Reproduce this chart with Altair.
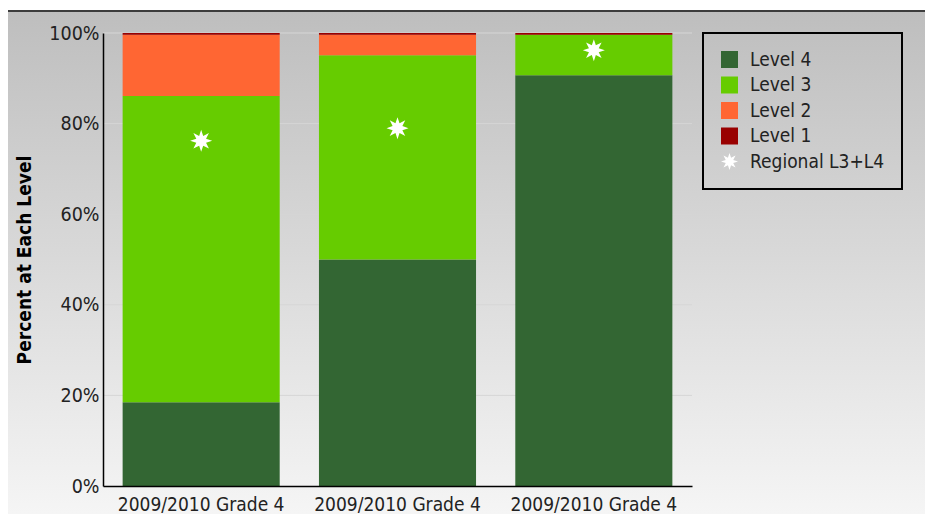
import json
import math
import altair as alt
import pandas as pd

# ---- data ----
labels = ["2009/2010 Grade 4", "2009/2010 Grade 4", "2009/2010 Grade 4"]
levels = ["Level 4", "Level 3", "Level 2", "Level 1"]
level4 = [18.5, 50.0, 90.7]
level3 = [67.6, 45.1, 8.9]
level2 = [13.5, 4.5, 0.0]
level1 = [0.4, 0.4, 0.4]
regional = [76.2, 79.0, 96.2]
regional_name = "Regional L3+L4"
y_ticks = [0, 20, 40, 60, 80, 100]

colors = ["#336633", "#66cc00", "#ff6633", "#990000", "#ffffff"]
domain = levels + [regional_name]

rows = []
for i in range(len(labels)):
    for rank, (name, series) in enumerate(zip(levels, [level4, level3, level2, level1])):
        rows.append({"idx": i, "level": name, "rank": rank, "pct": series[i]})
bars_df = pd.DataFrame(rows)
stars_df = pd.DataFrame({"idx": list(range(len(labels))), "level": regional_name, "pct": regional})
grid_df = pd.DataFrame({"pct": y_ticks[1:]})
one_df = pd.DataFrame({"k": [0]})

# 8-pointed star symbol
pts = []
n = 8
for k in range(2 * n):
    r = 1.0 if k % 2 == 0 else 0.48
    a = math.pi * k / n - math.pi / 2
    pts.append(f"{r*math.cos(a):.3f},{r*math.sin(a):.3f}")
star = "M" + "L".join(pts) + "Z"
shapes = ["square"] * 4 + [star]

FONT = "DejaVu Sans Condensed, DejaVu Sans"

legend_kw = dict(
    title=None, orient="none", legendX=600, legendY=0, padding=17,
    strokeColor="black", labelFontSize=19, labelColor="#222222",
    symbolSize=289, rowPadding=5.5, labelOffset=11, zindex=1,
    symbolStrokeWidth=0, labelFont=FONT,
)

bg = alt.Chart(one_df).mark_rect(
    fill=alt.Gradient(
        gradient="linear",
        stops=[alt.GradientStop(color="#bebebe", offset=0),
               alt.GradientStop(color="#f5f5f5", offset=1)],
        x1=0, x2=0, y1=0, y2=1,
    )
).encode(x=alt.value(-95), x2=alt.value(822), y=alt.value(-21), y2=alt.value(481))

topline = alt.Chart(one_df).mark_rule(color="#3c3c3c", strokeWidth=2).encode(
    x=alt.value(-95), x2=alt.value(822), y=alt.value(-22)
)

grid = alt.Chart(grid_df).mark_rule(color="#d6d6d6", strokeWidth=1).encode(
    y=alt.Y("pct:Q")
)

xaxis = alt.Axis(
    labelExpr=f"{json.dumps(labels)}[datum.value]", labelAngle=0, ticks=False,
    labelPadding=9, domainColor="black", domainWidth=1.5, zindex=1,
    labelFontSize=19, labelColor="#222222", labelFont=FONT, title=None,
)
yaxis = alt.Axis(
    values=y_ticks, labelExpr="datum.value + '%'", grid=False, ticks=False,
    labelPadding=4, domainColor="black", domainWidth=1.5, zindex=1,
    labelFontSize=19.5, labelColor="#222222", labelFont=FONT,
    title="Percent at Each Level", titleFontSize=19, titleFont=FONT,
    titleFontWeight="bold", titleColor="black", titlePadding=14,
)

bars = alt.Chart(bars_df).mark_bar().encode(
    x=alt.X("idx:O", scale=alt.Scale(paddingInner=0.2, paddingOuter=0.1), axis=xaxis),
    y=alt.Y("pct:Q", stack="zero", scale=alt.Scale(domain=[0, 100], nice=False), axis=yaxis),
    color=alt.Color("level:N", scale=alt.Scale(domain=domain, range=colors),
                    legend=alt.Legend(**legend_kw)),
    order=alt.Order("rank:Q", sort="ascending"),
)

stars = alt.Chart(stars_df).mark_point(filled=True, size=484, opacity=1, strokeWidth=0).encode(
    x=alt.X("idx:O"),
    y=alt.Y("pct:Q"),
    color=alt.Color("level:N", scale=alt.Scale(domain=domain, range=colors),
                    legend=alt.Legend(**legend_kw)),
    shape=alt.Shape("level:N", scale=alt.Scale(domain=domain, range=shapes),
                    legend=alt.Legend(**legend_kw)),
)

chart = alt.layer(bg, topline, grid, bars, stars).properties(
    width=589, height=453,
    padding={"left": 95, "top": 25, "right": 233, "bottom": 40},
    autosize=alt.AutoSizeParams(type="none"),
).configure_view(stroke=None).configure_legend(strokeWidth=2)

chart.save("out.html", embed_options={"renderer": "svg", "actions": False})
